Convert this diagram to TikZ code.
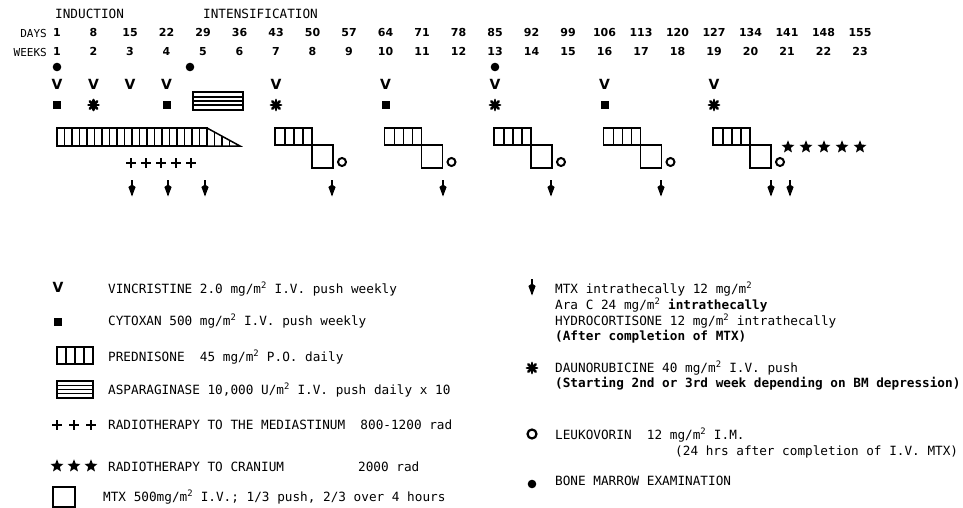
\documentclass[tikz,border=0pt]{standalone}
\usepackage{fontspec}
\setmonofont{DejaVu Sans Mono}
\newfontfamily\numfam{DejaVu Sans}
\usepackage{tikz}
\usetikzlibrary{shapes.geometric}
\newcommand{\lgdfont}{\ttfamily\fontsize{12.7}{15}\selectfont}
\newcommand{\hdrfont}{\ttfamily\fontsize{11}{13}\selectfont}
\newcommand{\chartnum}{\numfam\bfseries\fontsize{11}{12}\selectfont}
\newcommand{\wx}[1]{57+(#1-1)*36.5}
\tikzset{
  lgd/.style={font=\lgdfont,anchor=west,inner sep=0pt},
  hdr/.style={font=\hdrfont,inner sep=0pt},
  numlbl/.style={font=\chartnum,inner sep=0pt,anchor=base},
  vmark/.style={font=\numfam\bfseries\fontsize{14}{14}\selectfont,inner sep=0pt},
  pred/.style={line width=1.5pt},
  crstar/.style={star,star points=5,star point ratio=2.3,fill,inner sep=0pt,minimum size=13.5pt},
  daun/.pic={\foreach \a in {0,45,90,135}\draw[line width=2.8pt,line cap=round](\a:5pt)--(\a+180:5pt);
             \fill(0,0) circle (3.2pt);},
  rplus/.pic={\draw[line width=2.3pt](-4.8,0)--(4.8,0) (0,-4.8)--(0,4.8);},
  itarr/.pic={\draw[line width=1.4pt](0,-8)--(0,7);
              \fill(0,8.5)--(-3.6,-1)--(0,-3.5)--(3.6,-1)--cycle;}
}
\begin{document}
\begin{tikzpicture}[x=1pt,y=-1pt]
  \useasboundingbox (0,0) rectangle (963,508);
  % time scale
  \node[lgd] (ind) at (55,14) {INDUCTION};
  \node[lgd] (intens) at (203,14) {INTENSIFICATION};
  \node[hdr,anchor=east] (days) at (47,33) {DAYS};
  \node[hdr,anchor=east] (weeks) at (47,52) {WEEKS};
  \foreach \w in {1,...,23}{
    \pgfmathtruncatemacro\d{7*(\w-1)+1}
    \node[numlbl] (d\w) at ({\wx{\w}},37) {\d};
    \node[numlbl] (w\w) at ({\wx{\w}},56) {\w};
  }
  % bone marrow, vincristine, cytoxan, daunorubicine
  \foreach \x in {57,190,495}\fill(\x,67) circle (4.3pt);
  \foreach \w in {1,2,3,4,7,10,13,16,19}\node[vmark] (v\w) at ({\wx{\w}},84) {V};
  \foreach \w in {1,4,10,16}\fill({\wx{\w}-4},101) rectangle ++(8,8);
  \foreach \w in {2,7,13,19}\pic at ({\wx{\w}},105) {daun};
  % asparaginase
  \draw[pred](193,92) rectangle (243,110);
  \foreach \y in {97,101,105}\draw[pred](193,\y)--(243,\y);
  % prednisone induction
  \draw[pred](57,128) rectangle (207,146);
  \draw[pred](207,128)--(240,146)--(207,146);
  \foreach \s in {64.5,72,...,200}\draw[pred](\s,128)--(\s,146);
  \foreach \s in {214.5,222,229.5}\draw[pred](\s,{128+(\s-207)*18/33})--(\s,146);
  % intensification blocks
  \foreach \w in {7,10,13,16,19}{
    \pgfmathsetmacro\xo{\wx{\w}-1}
    \draw[pred](\xo,128) rectangle ++(37,17);
    \foreach \s in {10,19,28}\draw[pred]({\xo+\s},128)--++(0,17);
    \draw[line width=1.2pt]({\xo+37},145) rectangle ++(21,23);
    \draw[line width=2pt]({\xo+67},162) circle (4pt);
  }
  \foreach \i in {0,...,4}\node[crstar] (st\i) at ({788+18*\i},147) {};
  \foreach \i in {0,...,4}\pic at ({131+15*\i},163) {rplus};
  \foreach \x in {132,168,205,332,443,551,661,771,790}\pic at (\x,188) {itarr};
  % legend, left
  \node[vmark] (lv) at (58,287) {V};
  \fill(54,318) rectangle ++(8,8);
  \draw[pred](57,347) rectangle (93,364);
  \foreach \s in {66,75,84}\draw[pred](\s,347)--(\s,364);
  \draw[pred](57,381) rectangle (93,398);
  \foreach \y in {385.5,389.5,393.5}\draw[pred](57,\y)--(93,\y);
  \foreach \x in {57,74,91}\pic at (\x,425) {rplus};
  \foreach \x in {57,74,91}\node[crstar] (ls\x) at (\x,466) {};
  \draw[line width=1.2pt](53,487) rectangle (75,507);
  \node[lgd] (tv) at (108,289) {VINCRISTINE 2.0 mg/m\textsuperscript{2} I.V. push weekly};
  \node[lgd] (tc) at (108,321) {CYTOXAN 500 mg/m\textsuperscript{2} I.V. push weekly};
  \node[lgd] (tp) at (108,357) {PREDNISONE\ \ 45 mg/m\textsuperscript{2} P.O. daily};
  \node[lgd] (ta) at (108,390) {ASPARAGINASE 10,000 U/m\textsuperscript{2} I.V. push daily x 10};
  \node[lgd] (tm) at (108,425) {RADIOTHERAPY TO THE MEDIASTINUM\ \ 800-1200 rad};
  \node[lgd] (tr) at (108,467) {RADIOTHERAPY TO CRANIUM};
  \node[lgd] (trd) at (358,467) {2000 rad};
  \node[lgd] (tx) at (103,497) {MTX 500mg/m\textsuperscript{2} I.V.; 1/3 push, 2/3 over 4 hours};
  % legend, right
  \pic at (532,287) {itarr};
  \pic at (532,368) {daun};
  \draw[line width=2.2pt](532,434) circle (4.5pt);
  \fill(532,484) circle (4.3pt);
  \node[lgd] (ti1) at (555,289) {MTX intrathecally 12 mg/m\textsuperscript{2}};
  \node[lgd] (ti2) at (555,305) {Ara C 24 mg/m\textsuperscript{2} \textbf{intrathecally}};
  \node[lgd] (ti3) at (555,321) {HYDROCORTISONE 12 mg/m\textsuperscript{2} intrathecally};
  \node[lgd,font=\lgdfont\bfseries] (ti4) at (555,337) {(After completion of MTX)};
  \node[lgd] (td1) at (555,368) {DAUNORUBICINE 40 mg/m\textsuperscript{2} I.V. push};
  \node[lgd,font=\lgdfont\bfseries] (td2) at (555,384) {(Starting 2nd or 3rd week depending on BM depression)};
  \node[lgd] (tl1) at (555,435) {LEUKOVORIN\ \ 12 mg/m\textsuperscript{2} I.M.};
  \node[lgd] (tl2) at (675,452) {(24 hrs after completion of I.V. MTX)};
  \node[lgd] (tb) at (555,481) {BONE MARROW EXAMINATION};
\end{tikzpicture}
\end{document}
